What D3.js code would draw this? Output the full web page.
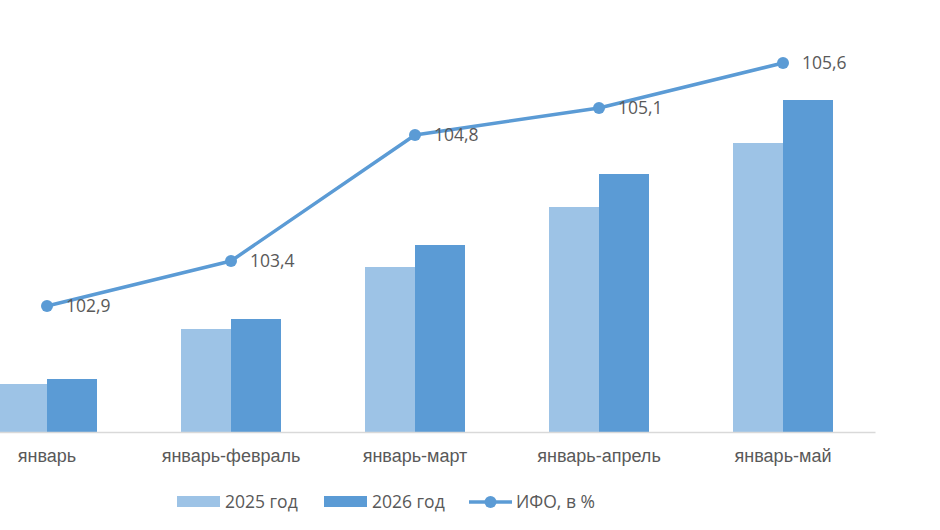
<!DOCTYPE html>
<html>
<head>
<meta charset="utf-8">
<script src="https://cdn.jsdelivr.net/npm/d3@7"></script>
<style>
  body { margin: 0; background: #fff; }
  svg { display: block; font-family: "Open Sans", "Noto Sans", sans-serif; }
  .lbl { fill: #595959; }
</style>
</head>
<body>
<svg width="940" height="530"></svg>
<script>
//data
const categories = ["январь", "январь-февраль", "январь-март", "январь-апрель", "январь-май"];
const values2025 = [48, 103, 165, 225, 289];
const values2026 = [53, 113, 187, 258, 332];
const ifo = [102.9, 103.4, 104.8, 105.1, 105.6];
const ifoLabels = ["102,9", "103,4", "104,8", "105,1", "105,6"];
const seriesNames = ["2025 год", "2026 год", "ИФО, в %"];

const lightBlue = "#9dc3e6";
const darkBlue = "#5b9bd5";

const svg = d3.select("svg");

//scales
const x = d3.scaleBand()
    .domain(categories)
    .range([-45, 875]);

const x1 = d3.scaleBand()
    .domain(["2025", "2026"])
    .range([x.bandwidth() / 2 - 50, x.bandwidth() / 2 + 50]);

const y = d3.scaleLinear()
    .domain([0, 400])
    .range([432, 32]);

const y2 = d3.scaleLinear()
    .domain([100, 106])
    .range([567, 27]);

//bars
const groups = svg.append("g")
    .selectAll("g")
    .data(categories)
    .enter()
    .append("g")
    .attr("transform", d => "translate(" + x(d) + ",0)");

groups.append("rect")
    .attr("x", x1("2025"))
    .attr("width", x1.bandwidth())
    .attr("y", (d, i) => y(values2025[i]))
    .attr("height", (d, i) => y(0) - y(values2025[i]))
    .attr("fill", lightBlue);

groups.append("rect")
    .attr("x", x1("2026"))
    .attr("width", x1.bandwidth())
    .attr("y", (d, i) => y(values2026[i]))
    .attr("height", (d, i) => y(0) - y(values2026[i]))
    .attr("fill", darkBlue);

//axis
const gX = svg.append("g")
    .attr("transform", "translate(0," + y(0) + ")")
    .call(d3.axisBottom(x).tickSize(0).tickPadding(17));

gX.select(".domain").attr("stroke", "#d9d9d9").attr("stroke-width", 1.5);
gX.selectAll("text")
    .attr("class", "lbl")
    .style("font-size", "18px");

//line
const cx = d => x(d) + x.bandwidth() / 2;

svg.append("path")
    .datum(ifo)
    .attr("fill", "none")
    .attr("stroke", darkBlue)
    .attr("stroke-width", 3.5)
    .attr("stroke-linejoin", "round")
    .attr("d", d3.line()
        .x((d, i) => cx(categories[i]))
        .y(d => y2(d)));

svg.append("g")
    .selectAll("circle")
    .data(ifo)
    .enter()
    .append("circle")
    .attr("cx", (d, i) => cx(categories[i]))
    .attr("cy", d => y2(d))
    .attr("r", 6)
    .attr("fill", darkBlue);

svg.append("g")
    .selectAll("text")
    .data(ifo)
    .enter()
    .append("text")
    .attr("class", "lbl")
    .attr("x", (d, i) => cx(categories[i]) + 19)
    .attr("y", d => y2(d))
    .attr("dy", "0.35em")
    .style("font-size", "17.5px")
    .text((d, i) => ifoLabels[i]);

//legend
const legend = svg.append("g").attr("transform", "translate(0,502)");

legend.append("rect")
    .attr("x", 177).attr("y", -6).attr("width", 43).attr("height", 11)
    .attr("fill", lightBlue);
legend.append("text")
    .attr("class", "lbl").attr("x", 225).attr("dy", "0.35em")
    .style("font-size", "17.5px").text(seriesNames[0]);

legend.append("rect")
    .attr("x", 324).attr("y", -6).attr("width", 43).attr("height", 11)
    .attr("fill", darkBlue);
legend.append("text")
    .attr("class", "lbl").attr("x", 372).attr("dy", "0.35em")
    .style("font-size", "17.5px").text(seriesNames[1]);

legend.append("line")
    .attr("x1", 469).attr("x2", 512).attr("y1", 0).attr("y2", 0)
    .attr("stroke", darkBlue).attr("stroke-width", 3.5);
legend.append("circle")
    .attr("cx", 490.5).attr("cy", 0).attr("r", 6)
    .attr("fill", darkBlue);
legend.append("text")
    .attr("class", "lbl").attr("x", 516).attr("dy", "0.35em")
    .style("font-size", "17.5px").text(seriesNames[2]);
</script>
</body>
</html>
